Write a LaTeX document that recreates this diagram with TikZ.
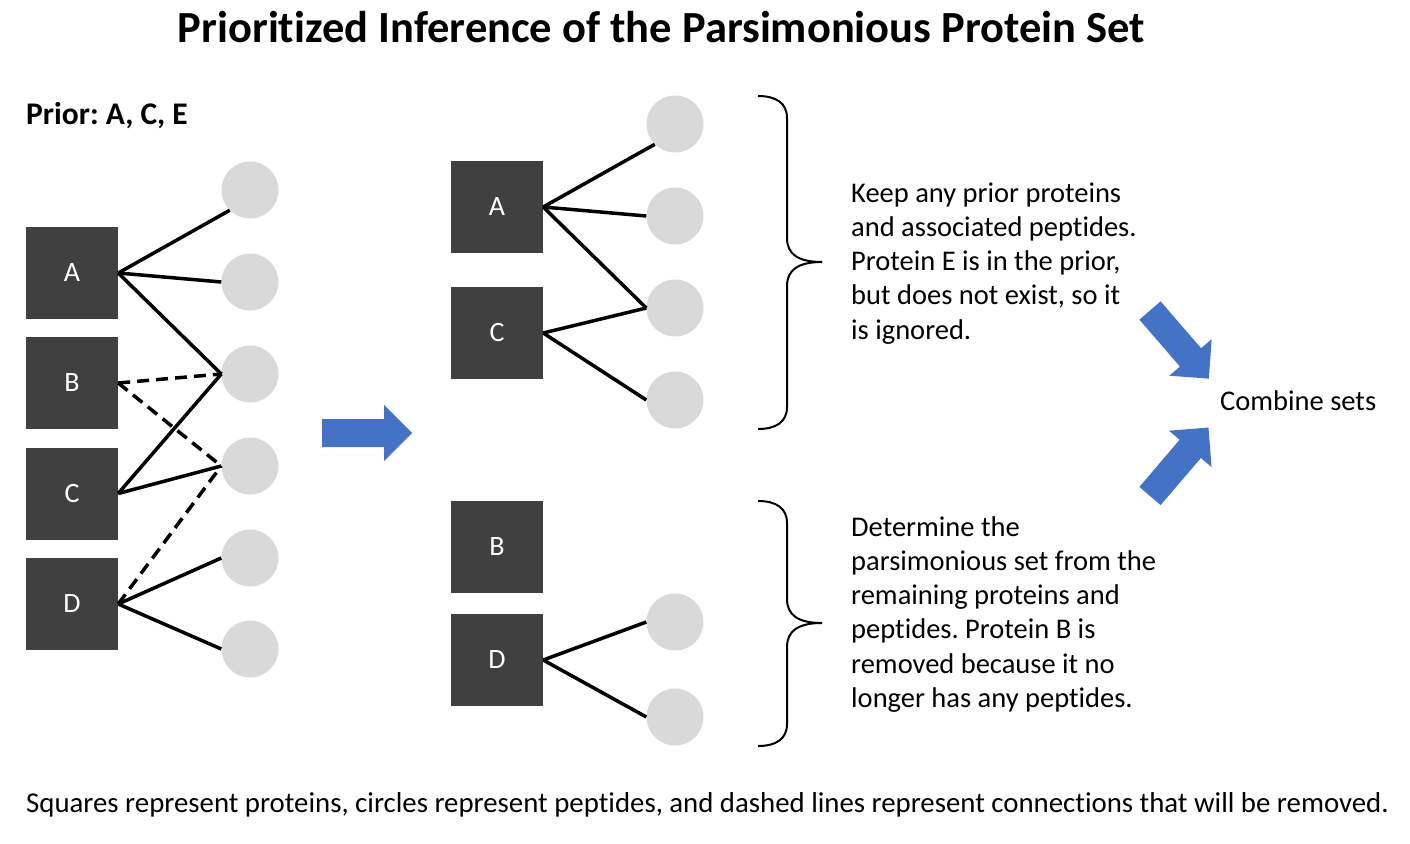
\documentclass[tikz,border=0pt]{standalone}
\usepackage{fontspec}
\setmainfont{Carlito}[Ligatures=NoCommon]
\frenchspacing
\definecolor{protgray}{HTML}{404040}
\definecolor{pepgray}{HTML}{D9D9D9}
\definecolor{arrowblue}{HTML}{4472C4}
\tikzset{
  prot/.style={rectangle, fill=protgray, minimum size=92pt, inner sep=0pt,
    text=white, font=\fontsize{28}{33}\selectfont},
  pep/.style={circle, fill=pepgray, minimum size=57pt, inner sep=0pt},
  link/.style={line width=3.5pt, black},
  droplink/.style={link, dash pattern=on 12pt off 7pt},
  bracepath/.style={line width=2pt, black},
  body/.style={anchor=base west, inner sep=0pt, font=\fontsize{28.5}{34}\selectfont},
  pics/fatarrow/.style={code={
    \fill[arrowblue] (0,-14) -- (62,-14) -- (62,-28) -- (90,0) -- (62,28)
      -- (62,14) -- (0,14) -- cycle;}},
}
\begin{document}
\begin{tikzpicture}[x=1pt,y=-1pt]
\useasboundingbox (0,0) rectangle (1410,843);

% title and prior
\node[anchor=base, inner sep=0pt, font=\fontsize{44.5}{52}\selectfont\bfseries]
  (title) at (661.5,43) {Prioritized Inference of the Parsimonious Protein Set};
\node[anchor=base west, inner sep=0pt, font=\fontsize{31.5}{38}\selectfont\bfseries]
  (prior) at (26,124) {Prior: A, C, E};

% full protein/peptide graph
\node[prot] (A) at (72,273) {A};
\node[prot] (B) at (72,383) {B};
\node[prot] (C) at (72,493.5) {C};
\node[prot] (D) at (72,604) {D};
\node[pep] (p1) at (250,190) {};
\node[pep] (p2) at (250,282) {};
\node[pep] (p3) at (250,374) {};
\node[pep] (p4) at (250,466) {};
\node[pep] (p5) at (250,558) {};
\node[pep] (p6) at (250,649) {};
\draw[link] (A.east) -- (p1.south west);
\draw[link] (A.east) -- (p2.west);
\draw[link] (A.east) -- (p3.west);
\draw[droplink] (B.east) -- (p3.west);
\draw[droplink] (B.east) -- (p4.west);
\draw[link] (C.east) -- (p3.west);
\draw[link] (C.east) -- (p4.west);
\draw[droplink] (D.east) -- (p4.west);
\draw[link] (D.east) -- (p5.west);
\draw[link] (D.east) -- (p6.west);

% split arrow
\pic at (322,433) {fatarrow};

% prior subset
\node[prot] (A2) at (497,207) {A};
\node[prot] (C2) at (497,333) {C};
\node[pep] (q1) at (675,124) {};
\node[pep] (q2) at (675,216) {};
\node[pep] (q3) at (675,308) {};
\node[pep] (q4) at (675,400) {};
\draw[link] (A2.east) -- (q1.south west);
\draw[link] (A2.east) -- (q2.west);
\draw[link] (A2.east) -- (q3.west);
\draw[link] (C2.east) -- (q3.west);
\draw[link] (C2.east) -- (q4.west);

% remaining subset
\node[prot] (B2) at (497,547) {B};
\node[prot] (D2) at (497,660) {D};
\node[pep] (r1) at (675,622) {};
\node[pep] (r2) at (675,717) {};
\draw[link] (D2.east) -- (r1.west);
\draw[link] (D2.east) -- (r2.west);

% braces
\draw[bracepath] (758,96) .. controls (776,96) and (787,103) .. (787,118)
  -- (787,238) .. controls (787,254) and (798,262) .. (822,262);
\draw[bracepath] (822,262) .. controls (798,262) and (787,270) .. (787,286)
  -- (787,407) .. controls (787,422) and (776,429) .. (758,429);
\draw[bracepath] (758,501) .. controls (776,501) and (787,508) .. (787,523)
  -- (787,599) .. controls (787,615) and (798,623) .. (822,623);
\draw[bracepath] (822,623) .. controls (798,623) and (787,631) .. (787,647)
  -- (787,724) .. controls (787,739) and (776,746) .. (758,746);

% explanations
\node[body] (k1) at (851,202) {Keep any prior proteins};
\node[body] (k2) at (851,236.3) {and associated peptides.};
\node[body] (k3) at (851,270.6) {Protein E is in the prior,};
\node[body] (k4) at (851,304.9) {but does not exist, so it};
\node[body] (k5) at (851,339.2) {is ignored.};
\node[body] (d1) at (851,536) {Determine the};
\node[body] (d2) at (851,570.3) {parsimonious set from the};
\node[body] (d3) at (851,604.6) {remaining proteins and};
\node[body] (d4) at (851,638.9) {peptides. Protein B is};
\node[body] (d5) at (851,673.2) {removed because it no};
\node[body] (d6) at (851,707.5) {longer has any peptides.};

% combine
\pic[rotate=-49.2] at (1150,310.5) {fatarrow};
\pic[rotate=49.5] at (1150,496) {fatarrow};
\node[body] (comb) at (1220,410) {Combine sets};

% legend
\node[body, font=\fontsize{28.8}{34}\selectfont] (legend) at (26,812) {Squares represent proteins, circles represent peptides, and dashed lines represent connections that will be removed.};
\end{tikzpicture}
\end{document}
